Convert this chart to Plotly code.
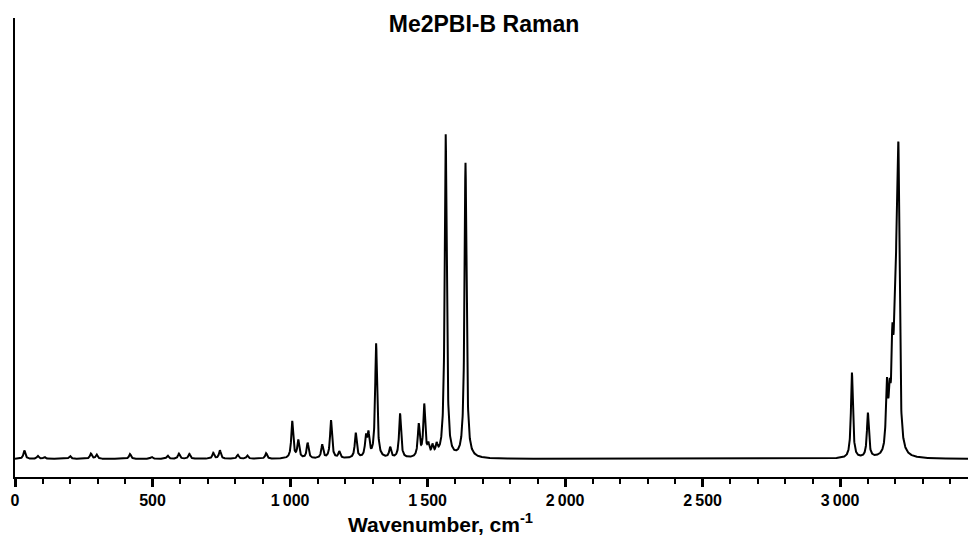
import numpy as np
import plotly.graph_objects as go

# Peak list (wavenumber, cm-1; relative intensity)
peak_positions = [34, 83, 107, 200, 276, 297, 418, 497, 555, 596, 634, 721, 745, 810, 845, 913,
                  1008, 1030, 1064, 1117, 1149, 1179, 1239, 1276, 1285, 1313, 1364, 1400,
                  1468, 1488, 1503, 1518, 1533, 1566, 1638,
                  3043, 3101, 3170, 3180, 3190, 3198, 3205, 3212]
peak_heights = [2.6, 0.9, 0.6, 0.9, 1.6, 1.3, 1.5, 0.6, 1.0, 1.6, 1.5, 1.8, 2.6, 1.2, 1.0, 1.7,
                11.5, 5.5, 4.8, 4.2, 11.8, 2.0, 7.8, 6.0, 6.8, 35.4, 3.2, 13.8,
                10.0, 16.0, 3.2, 3.0, 3.0, 100.0, 91.3,
                26.5, 13.8, 20.0, 14.0, 28.0, 24.0, 40.0, 84.0]
hwhm = 4.2  # Lorentzian half width (cm-1)

tick_values = [0, 500, 1000, 1500, 2000, 2500, 3000]
tick_labels = ["0", "500", "1\u2009000", "1\u2009500", "2\u2009000", "2\u2009500", "3\u2009000"]

wavenumber = np.arange(0, 3465.5, 0.5)
intensity = np.zeros_like(wavenumber)
for p, h in zip(peak_positions, peak_heights):
    intensity += h * hwhm**2 / ((wavenumber - p) ** 2 + hwhm**2)

fig = go.Figure()
fig.add_trace(go.Scatter(x=wavenumber, y=intensity, mode="lines",
                         line=dict(color="black", width=2), hoverinfo="skip",
                         showlegend=False))

font_family = "Liberation Sans, Arial, Helvetica, sans-serif"

fig.update_layout(
    width=968, height=535,
    margin=dict(l=15, r=0, t=18, b=58),
    paper_bgcolor="white", plot_bgcolor="white",
    title=dict(text="Me2PBI-B Raman", x=484 / 968, xanchor="center",
               xref="container", yref="container", y=(535 - 24) / 535, yanchor="middle",
               font=dict(family=font_family, size=23, color="black", weight="bold")),
    xaxis=dict(range=[0, 3465], showgrid=False, zeroline=False,
               showline=True, linecolor="black", linewidth=2,
               tickmode="array", tickvals=tick_values, ticktext=tick_labels,
               ticks="outside", ticklen=8, tickwidth=2.5, tickcolor="black",
               tickfont=dict(family=font_family, size=16, color="black", weight="bold"),
               minor=dict(dtick=100, ticks="outside", ticklen=5, tickwidth=1.5,
                          tickcolor="black", showgrid=False)),
    yaxis=dict(range=[-5.6, 136.5], showgrid=False, zeroline=False,
               showline=True, linecolor="black", linewidth=2,
               showticklabels=False, ticks=""),
    annotations=[dict(text="Wavenumber, cm<sup>-1</sup>", xref="paper", yref="paper",
                      x=(440 - 15) / 953, y=-0.1, xanchor="center", yanchor="middle",
                      showarrow=False,
                      font=dict(family=font_family, size=21, color="black", weight="bold"))],
)

fig.write_html("out.html", config={"displayModeBar": False},
               post_script="document.body.style.margin='0';document.body.style.overflow='hidden';")
